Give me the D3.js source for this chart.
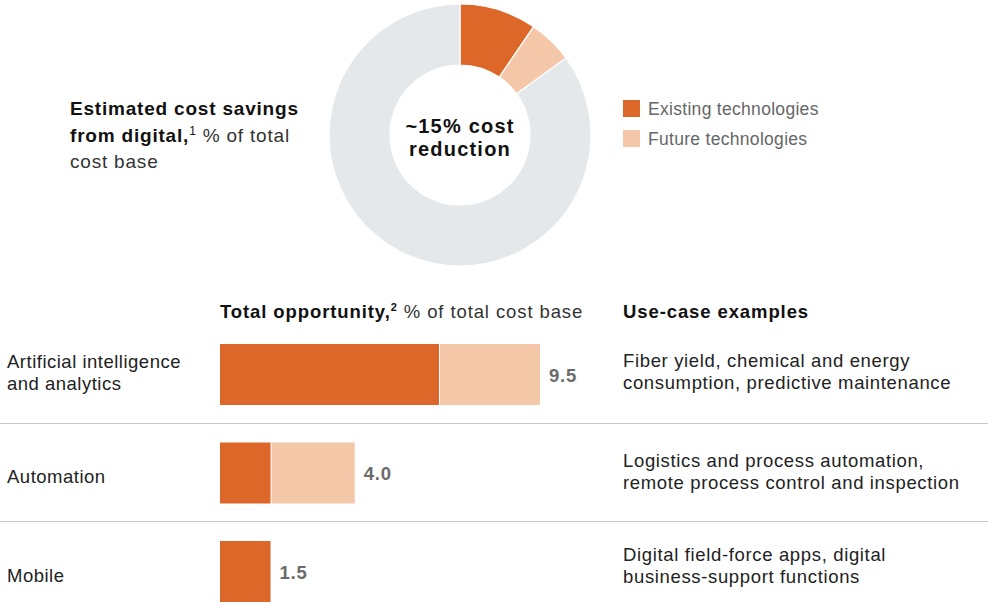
<!DOCTYPE html>
<html>
<head>
<meta charset="utf-8">
<script src="https://cdn.jsdelivr.net/npm/d3@7"></script>
<style>
  html, body { margin: 0; padding: 0; background: #fff; }
  svg { display: block; font-family: "Liberation Sans", Arial, Helvetica, sans-serif; }
</style>
</head>
<body>
<svg id="chart" width="988" height="604"></svg>
<script>
// Opportunity by technology group, % of total cost base
const categories = [["Artificial intelligence", "and analytics"], ["Automation"], ["Mobile"]];
const existingValues = [6.5, 1.5, 1.5];
const futureValues = [3.0, 2.5, 0];
const totalLabels = ["9.5", "4.0", "1.5"];
const useCases = [
  ["Fiber yield, chemical and energy", "consumption, predictive maintenance"],
  ["Logistics and process automation,", "remote process control and inspection"],
  ["Digital field-force apps, digital", "business-support functions"]
];
const legendLabels = ["Existing technologies", "Future technologies"];

const COLORS = { existing: "#DD6629", future: "#F4C7A9", rest: "#E5E8EB" };

const svg = d3.select("#chart");

// ---- Donut: share of cost base saved by existing and future technologies
const existingTotal = d3.sum(existingValues);
const futureTotal = d3.sum(futureValues);
const donutData = [
  { key: "existing", value: existingTotal },
  { key: "future", value: futureTotal },
  { key: "rest", value: 100 - existingTotal - futureTotal }
];
const pie = d3.pie().sort(null).value(d => d.value);
const arc = d3.arc().innerRadius(70).outerRadius(131);
const donut = svg.append("g").attr("transform", "translate(460,135)");
donut.selectAll("path")
  .data(pie(donutData))
  .join("path")
  .attr("d", arc)
  .attr("fill", d => COLORS[d.data.key])
  .attr("stroke", "#fff")
  .attr("stroke-width", 1.2);

donut.append("text")
  .attr("text-anchor", "middle")
  .attr("font-weight", "bold")
  .attr("font-size", 20)
  .attr("letter-spacing", 1.2)
  .attr("fill", "#111")
  .selectAll("tspan")
  .data(["~15% cost", "reduction"])
  .join("tspan")
  .attr("x", 0)
  .attr("y", (d, i) => -2 + i * 23)
  .text(d => d);

// ---- Donut title
const title = svg.append("text")
  .attr("font-size", 19)
  .attr("letter-spacing", 0.8)
  .attr("fill", "#111");
title.append("tspan").attr("x", 70).attr("y", 115).attr("font-weight", "bold").text("Estimated cost savings");
title.append("tspan").attr("x", 70).attr("y", 142).attr("font-weight", "bold").text("from digital,");
title.append("tspan").attr("font-size", 12).attr("dy", -7).text("1");
title.append("tspan").attr("dy", 7).attr("fill", "#333").text(" % of total");
title.append("tspan").attr("x", 70).attr("y", 168).attr("fill", "#333").text("cost base");

// ---- Legend
const legend = svg.append("g").attr("transform", "translate(623,100)");
const legendItems = legend.selectAll("g")
  .data(legendLabels)
  .join("g")
  .attr("transform", (d, i) => `translate(0,${i * 30})`);
legendItems.append("rect")
  .attr("width", 17).attr("height", 17)
  .attr("fill", (d, i) => i === 0 ? COLORS.existing : COLORS.future);
legendItems.append("text")
  .attr("x", 25).attr("y", 15)
  .attr("font-size", 17.5)
  .attr("letter-spacing", 0.3)
  .attr("fill", "#666")
  .text(d => d);

// ---- Bar section headers
const h1 = svg.append("text").attr("x", 220).attr("y", 318)
  .attr("font-size", 18.5).attr("letter-spacing", 0.9).attr("fill", "#111");
h1.append("tspan").attr("font-weight", "bold").text("Total opportunity,");
h1.append("tspan").attr("font-weight", "bold").attr("font-size", 11).attr("dy", -7).text("2");
h1.append("tspan").attr("dy", 7).attr("fill", "#333").text(" % of total cost base");

svg.append("text").attr("x", 623).attr("y", 318)
  .attr("font-size", 18.5).attr("letter-spacing", 0.9)
  .attr("font-weight", "bold").attr("fill", "#111")
  .text("Use-case examples");

// ---- Bars
const rowIdx = d3.range(categories.length);
const y = d3.scaleBand().domain(rowIdx).range([325.25, 620.75]).padding(0);
const x = d3.scaleLinear().domain([0, 9.5]).range([220, 540]);
const barH = 61;

// Row separators
svg.selectAll("line.sep")
  .data(rowIdx.slice(1))
  .join("line")
  .attr("class", "sep")
  .attr("x1", 0).attr("x2", 988)
  .attr("y1", d => Math.round(y(d)) - 0.5)
  .attr("y2", d => Math.round(y(d)) - 0.5)
  .attr("stroke", "#C8C8C8")
  .attr("stroke-width", 1);

const rows = svg.selectAll("g.row")
  .data(rowIdx)
  .join("g")
  .attr("class", "row")
  .attr("transform", d => `translate(0,${y(d) + y.bandwidth() / 2})`);

rows.append("rect")
  .attr("x", x(0))
  .attr("y", -barH / 2)
  .attr("width", i => x(existingValues[i]) - x(0))
  .attr("height", barH)
  .attr("fill", COLORS.existing);

rows.filter(i => futureValues[i] > 0).append("rect")
  .attr("x", i => x(existingValues[i]) + 1)
  .attr("y", -barH / 2)
  .attr("width", i => x(existingValues[i] + futureValues[i]) - x(existingValues[i]) - 1)
  .attr("height", barH)
  .attr("fill", COLORS.future);

rows.append("text")
  .attr("x", i => x(existingValues[i] + futureValues[i]) + 9)
  .attr("y", 7)
  .attr("font-size", 18.5)
  .attr("letter-spacing", 0.8)
  .attr("font-weight", "bold")
  .attr("fill", "#6B6B6B")
  .text(i => totalLabels[i]);

// Category labels
const catShift = [-3, 3, 3];
rows.append("text")
  .attr("font-size", 18.5)
  .attr("letter-spacing", 0.5)
  .attr("fill", "#222")
  .selectAll("tspan")
  .data(i => categories[i].map((line, k, arr) => ({ line, k, n: arr.length, i })))
  .join("tspan")
  .attr("x", 7)
  .attr("y", d => catShift[d.i] + 7 + (d.k - (d.n - 1) / 2) * 22)
  .text(d => d.line);

// Use-case descriptions
const caseShift = [-4, -2, -7];
rows.append("text")
  .attr("font-size", 18.5)
  .attr("letter-spacing", 0.65)
  .attr("fill", "#222")
  .selectAll("tspan")
  .data(i => useCases[i].map((line, k, arr) => ({ line, k, n: arr.length, i })))
  .join("tspan")
  .attr("x", 623)
  .attr("y", d => caseShift[d.i] + 7 + (d.k - (d.n - 1) / 2) * 22)
  .text(d => d.line);
</script>
</body>
</html>
